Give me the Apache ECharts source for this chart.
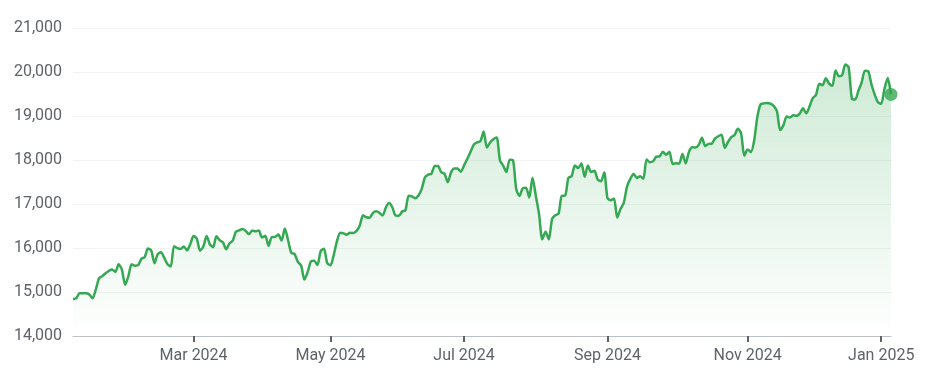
<!DOCTYPE html>
<html>
<head>
<meta charset="utf-8">
<script src="https://cdn.jsdelivr.net/npm/echarts@6/dist/echarts.min.js"></script>
<style>
html,body{margin:0;padding:0;background:#fff;}
#c{width:936px;height:387px;}
</style>
</head>
<body>
<div id="c"></div>
<script>
// Trading-day closes (Jan 8 2024 .. Jan 7 2025)
const jan24 = [14843,14857,14970,14970,14972,14944,14856,15056,15311,15361,15426,15482,15511,15455,15628,15510,15164];
const feb24 = [15361,15629,15598,15609,15756,15794,15991,15943,15656,15860,15906,15776,15631,15581,16041,15997,15976,16035,15948,16092];
const mar24 = [16275,16208,15940,16032,16273,16085,16019,16266,16178,16129,15973,16103,16166,16370,16402,16429,16385,16316,16400,16379];
const apr24 = [16397,16240,16277,16050,16249,16253,16306,16170,16442,16175,15885,15865,15684,15601,15282,15451,15697,15713,15612,15928,15983,15658];
const may24 = [15605,15841,16156,16349,16333,16302,16346,16341,16388,16512,16743,16698,16686,16795,16833,16802,16737,16921,17020,16921,16737,16735];
const jun24 = [16829,16857,17187,17173,17133,17193,17343,17608,17667,17689,17862,17862,17721,17689,17497,17718,17805,17805,17733];
const jul24 = [17879,18029,18188,18352,18403,18429,18647,18283,18398,18473,18509,17996,17871,17727,18008,17997,17342,17182,17358,17370,17147,17599];
const aug24 = [17194,16776,16200,16367,16195,16660,16745,16780,17188,17192,17594,17631,17877,17817,17919,17619,17877,17725,17754,17556,17516,17714];
const sep24 = [17136,17084,17127,16691,16885,17026,17396,17570,17684,17593,17628,17573,18014,17948,17974,18075,18083,18190,18120,18189];
const oct24 = [17910,17926,17918,18138,17923,18183,18291,18282,18343,18503,18316,18367,18374,18490,18540,18573,18277,18415,18519,18567,18712,18608,18095];
const nov24 = [18240,18180,18439,18983,19269,19287,19298,19282,19231,19108,18680,18792,18988,18966,19016,19004,19055,19175,19060,19218];
const dec24 = [19404,19481,19735,19700,19860,19737,19687,20034,19902,19927,20173,20109,19393,19373,19573,19765,20031,20020,19722,19487,19311];
const jan25 = [19280,19622,19864,19490];

const holidays = ['2024-01-15','2024-02-19','2024-03-29','2024-05-27','2024-06-19','2024-07-04','2024-09-02','2024-11-28','2024-12-25','2025-01-01'];
const startDate = '2024-01-08';
const tickLabels = {'2024-03-01':'Mar 2024','2024-05-01':'May 2024','2024-07-01':'Jul 2024','2024-09-03':'Sep 2024','2024-11-01':'Nov 2024','2025-01-02':'Jan 2025'};
const yTicks = [14000,15000,16000,17000,18000,19000,20000,21000];

const values = [].concat(jan24,feb24,mar24,apr24,may24,jun24,jul24,aug24,sep24,oct24,nov24,dec24,jan25);

// trading-day categories
const dates = [];
(function(){
  const d = new Date(startDate + 'T12:00:00Z');
  while (dates.length < values.length) {
    const s = d.toISOString().slice(0,10);
    const wd = d.getUTCDay();
    if (wd !== 0 && wd !== 6 && holidays.indexOf(s) < 0) dates.push(s);
    d.setUTCDate(d.getUTCDate() + 1);
  }
})();

const last = values.length - 1;
const isTick = (i) => tickLabels[dates[i]] !== undefined;

const chart = echarts.init(document.getElementById('c'), null, {renderer:'canvas'});
chart.setOption({
  animation: false,
  grid: {left: 73, right: 45, top: 28, bottom: 51, containLabel: false},
  xAxis: {
    type: 'category',
    data: dates,
    boundaryGap: false,
    axisLine: {show: true, lineStyle: {color: '#bdc1c6', width: 1}},
    axisTick: {show: true, interval: (i) => isTick(i), length: 6, lineStyle: {color: '#5f6368', width: 2}},
    axisLabel: {
      interval: (i) => isTick(i),
      formatter: (v) => tickLabels[v] || '',
      color: '#5f6368', fontFamily: 'Roboto', fontSize: 16, margin: 12
    },
    splitLine: {show: false}
  },
  yAxis: {
    type: 'value',
    min: yTicks[0], max: yTicks[yTicks.length-1], interval: 1000,
    axisLine: {show: false}, axisTick: {show: false},
    axisLabel: {
      color: '#5f6368', fontFamily: 'Roboto', fontSize: 16, margin: 11,
      formatter: (v) => v.toLocaleString('en-US')
    },
    splitLine: {lineStyle: {color: '#f1f3f4', width: 1}}
  },
  series: [
    {
      type: 'line',
      data: values,
      smooth: 0.25,
      showSymbol: false,
      lineStyle: {color: '#34a853', width: 2.5},
      areaStyle: {
        color: new echarts.graphic.LinearGradient(0, 0, 0, 1, [
          {offset: 0, color: 'rgba(52,168,83,0.34)'},
          {offset: 1, color: 'rgba(52,168,83,0.0)'}
        ])
      },
      z: 2
    },
    {
      type: 'scatter',
      data: [[last, values[last]]],
      symbol: 'circle',
      symbolSize: 13,
      itemStyle: {color: '#34a853'},
      z: 3
    }
  ]
});
</script>
</body>
</html>
